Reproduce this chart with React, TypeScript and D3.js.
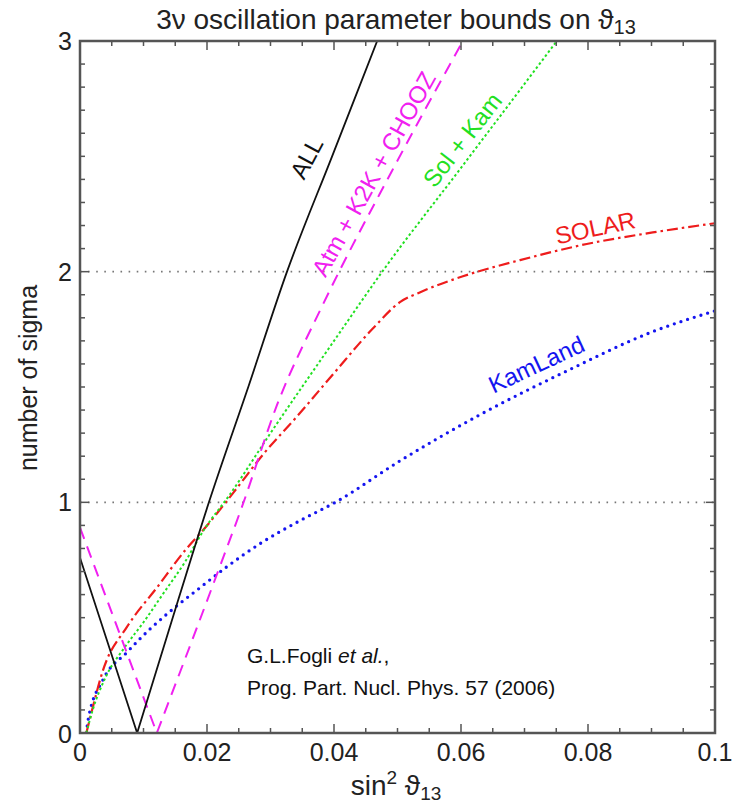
import React from "react";
import * as d3 from "d3";

const allX = [0, 0.009, 0.0155, 0.0203, 0.0265, 0.0326, 0.0397, 0.0468];
const allY = [0.76, 0, 0.58, 1.0, 1.5, 2.0, 2.5, 3.0];

const atmX = [0, 0.0121, 0.022, 0.0255, 0.031, 0.0383, 0.049, 0.0603];
const atmY = [0.89, 0, 0.72, 0.98, 1.42, 1.86, 2.43, 3.0];

const solKamX = [0.001, 0.002, 0.004, 0.007, 0.01, 0.013, 0.0165, 0.0195, 0.0235, 0.03, 0.04, 0.0476, 0.06, 0.0751];
const solKamY = [0, 0.1, 0.24, 0.37, 0.48, 0.6, 0.74, 0.88, 1.03, 1.3, 1.7, 2.0, 2.45, 3.0];

const solarX = [0.001, 0.002, 0.0036, 0.0074, 0.0121, 0.0168, 0.0194, 0.0241, 0.0289, 0.0341, 0.04, 0.046, 0.0505, 0.0535, 0.0603, 0.0693, 0.0798, 0.0902, 0.1];
const solarY = [0, 0.11, 0.27, 0.46, 0.63, 0.8, 0.88, 1.04, 1.21, 1.37, 1.56, 1.75, 1.87, 1.91, 1.98, 2.05, 2.12, 2.17, 2.21];

const kamX = [0.001, 0.0013, 0.0036, 0.0074, 0.011, 0.0152, 0.0189, 0.0231, 0.0283, 0.0346, 0.0402, 0.0504, 0.063, 0.0767, 0.0902, 0.1];
const kamY = [0, 0.06, 0.23, 0.35, 0.45, 0.55, 0.63, 0.72, 0.82, 0.92, 1.0, 1.18, 1.38, 1.57, 1.74, 1.83];

const xTickValues = [0, 0.02, 0.04, 0.06, 0.08, 0.1];
const xTickLabels = ["0", "0.02", "0.04", "0.06", "0.08", "0.1"];
const yTickValues = [0, 1, 2, 3];
const yTickLabels = ["0", "1", "2", "3"];
const gridValues = [1, 2];

const W = 732, H = 807;
const L = 80, R = 715, T = 41, B = 733;
const FONT = "'Liberation Sans Narrow', 'Liberation Sans', Arial, sans-serif";

export default function App() {
  const x = d3.scaleLinear().domain([0, 0.1]).range([L, R]);
  const y = d3.scaleLinear().domain([0, 3]).range([B, T]);
  const mk = (xs: number[], ys: number[], curve: any, from = 0, to = xs.length) =>
    d3.line<number>().x((i) => x(xs[i])).y((i) => y(ys[i])).curve(curve)(d3.range(from, to)) || "";
  // V-shaped curves: straight left arm, smooth right arm
  const vShape = (xs: number[], ys: number[]) =>
    mk(xs, ys, d3.curveLinear, 0, 2) + mk(xs, ys, d3.curveMonotoneX, 1, xs.length).replace(/^M/, "L");

  const minorX = d3.range(0, 0.1001, 0.005);
  const minorY = d3.range(0, 3.001, 0.1);

  const series = [
    { d: mk(kamX, kamY, d3.curveMonotoneX), color: "#1515f0", w: 3.3, dash: "0 7", cap: "round" },
    { d: mk(solarX, solarY, d3.curveMonotoneX), color: "#ee1c1c", w: 2.2, dash: "11 4 2.5 4", cap: "butt" },
    { d: mk(solKamX, solKamY, d3.curveMonotoneX), color: "#22e022", w: 2, dash: "2.5 2.5", cap: "butt" },
    { d: vShape(atmX, atmY), color: "#f020f0", w: 2, dash: "12 8", cap: "butt" },
    { d: vShape(allX, allY), color: "#111", w: 1.8, dash: "none", cap: "butt" },
  ];

  return (
    <svg width={W} height={H} style={{ display: "block", position: "absolute", left: 0, top: 0 }}>
      <rect width={W} height={H} fill="#fff" />
      <text x={396} y={29} textAnchor="middle" fontFamily={FONT} fontSize={28} fill="#222">
        3ν oscillation parameter bounds on ϑ<tspan fontSize={20} dy={5}>13</tspan>
      </text>
      {gridValues.map((g) => (
        <line key={g} x1={L} x2={R} y1={y(g)} y2={y(g)} stroke="#777" strokeWidth={1.6} strokeDasharray="1.6 6.5" />
      ))}
      <clipPath id="clip"><rect x={L} y={T} width={R - L} height={B - T} /></clipPath>
      <g clipPath="url(#clip)">
        {series.map((s, i) => (
          <path key={i} d={s.d} fill="none" stroke={s.color} strokeWidth={s.w}
            strokeDasharray={s.dash} strokeLinecap={s.cap as any} strokeLinejoin="miter" />
        ))}
      </g>
      {minorX.map((v, i) => {
        const len = i % 4 === 0 ? 9 : 5;
        return (
          <g key={"tx" + i}>
            <line x1={x(v)} x2={x(v)} y1={B} y2={B - len} stroke="#555" strokeWidth={1.5} />
            <line x1={x(v)} x2={x(v)} y1={T} y2={T + len} stroke="#555" strokeWidth={1.5} />
          </g>
        );
      })}
      {minorY.map((v, i) => {
        const len = i % 10 === 0 ? 9 : 5;
        return (
          <g key={"ty" + i}>
            <line x1={L} x2={L + len} y1={y(v)} y2={y(v)} stroke="#555" strokeWidth={1.5} />
            <line x1={R} x2={R - len} y1={y(v)} y2={y(v)} stroke="#555" strokeWidth={1.5} />
          </g>
        );
      })}
      <rect x={L} y={T} width={R - L} height={B - T} fill="none" stroke="#555" strokeWidth={2.5} />
      {xTickValues.map((v, i) => (
        <text key={"xl" + i} x={x(v)} y={B + 28} textAnchor="middle" fontFamily={FONT} fontSize={25} fill="#222">{xTickLabels[i]}</text>
      ))}
      {yTickValues.map((v, i) => (
        <text key={"yl" + i} x={L - 8} y={y(v) + (i === 0 ? 10 : 9)} textAnchor="end" fontFamily={FONT} fontSize={25} fill="#222">{yTickLabels[i]}</text>
      ))}
      <text x={396} y={795} textAnchor="middle" fontFamily={FONT} fontSize={28} fill="#222">
        sin<tspan fontSize={19} dy={-11}>2</tspan><tspan dy={11}> ϑ</tspan><tspan fontSize={19} dy={5}>13</tspan>
      </text>
      <text transform="translate(37,378) rotate(-90)" textAnchor="middle" fontFamily={FONT} fontSize={25} fill="#222">number of sigma</text>
      <text transform="translate(314,162) rotate(-62)" textAnchor="middle" fontFamily={FONT} fontSize={24} fill="#111">ALL</text>
      <text transform="translate(381,178) rotate(-61)" textAnchor="middle" fontFamily={FONT} fontSize={24} fill="#f020f0">Atm + K2K + CHOOZ</text>
      <text transform="translate(469,145) rotate(-52)" textAnchor="middle" fontFamily={FONT} fontSize={24} fill="#22e022">Sol + Kam</text>
      <text transform="translate(597,236) rotate(-12)" textAnchor="middle" fontFamily={FONT} fontSize={24} fill="#ee1c1c">SOLAR</text>
      <text transform="translate(540,372) rotate(-25)" textAnchor="middle" fontFamily={FONT} fontSize={24} fill="#1515f0">KamLand</text>
      <text x={247} y={663} fontFamily="Arial, 'Liberation Sans', sans-serif" fontSize={21} fill="#111">
        G.L.Fogli <tspan fontStyle="italic">et al.</tspan>,
      </text>
      <text x={247} y={695} fontFamily="Arial, 'Liberation Sans', sans-serif" fontSize={21} fill="#111">
        Prog. Part. Nucl. Phys. 57 (2006)
      </text>
    </svg>
  );
}
